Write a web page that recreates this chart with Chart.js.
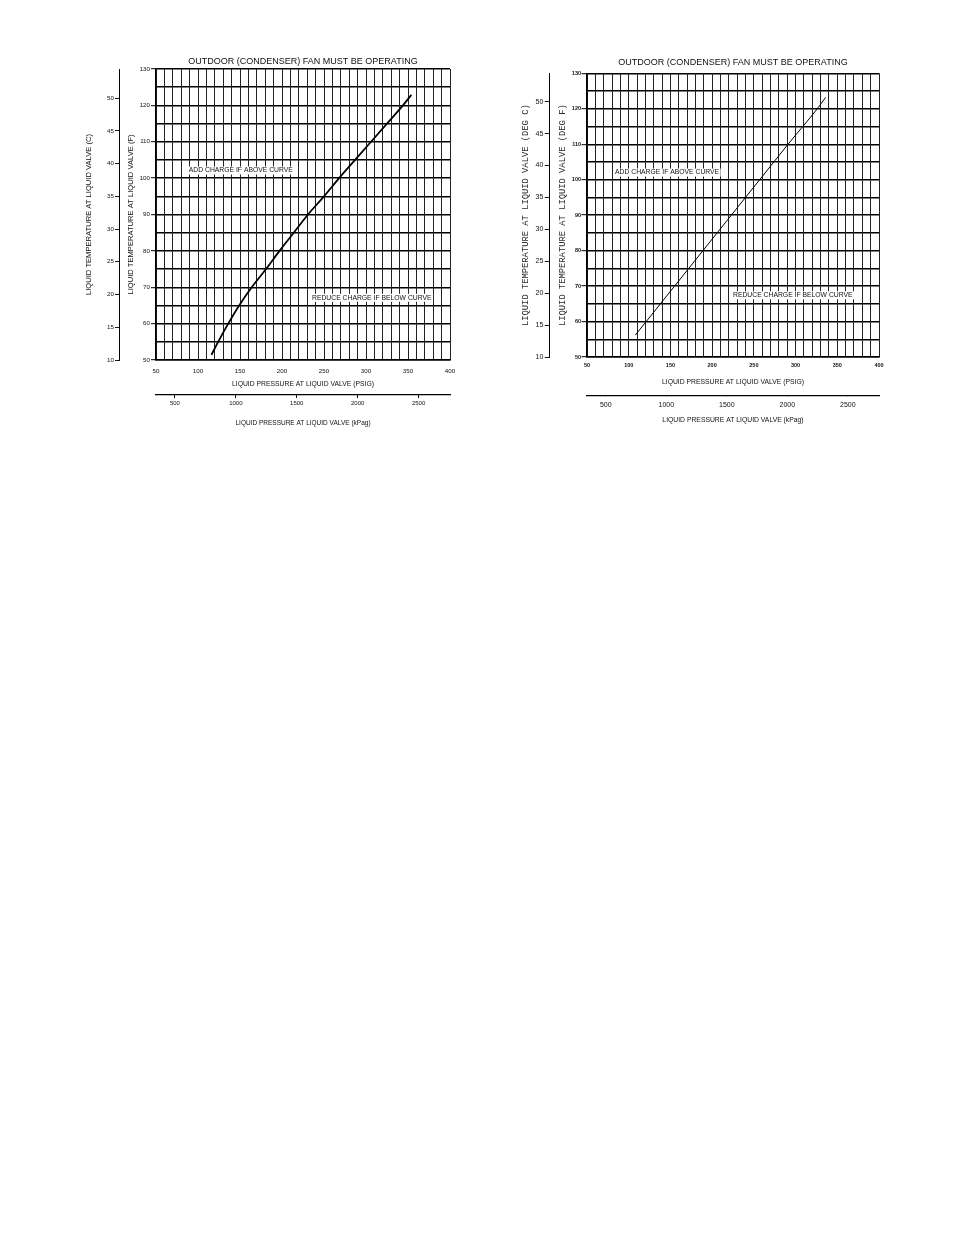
<!DOCTYPE html>
<html>
<head>
<meta charset="utf-8">
<title>Liquid line charging charts</title>
<script src="https://cdn.jsdelivr.net/npm/chart.js@4.4.0/dist/chart.umd.min.js"></script>
<style>
  html, body { margin: 0; padding: 0; background: #fff; }
  body { width: 954px; height: 1235px; position: relative; overflow: hidden; }
  canvas { position: absolute; }
  #leftChart { left: 70px; top: 50px; }
  #rightChart { left: 500px; top: 50px; }
</style>
</head>
<body>
<canvas id="leftChart" width="400" height="390"></canvas>
<canvas id="rightChart" width="400" height="390"></canvas>
<script>
// tick labels
const psigTicks = [50, 100, 150, 200, 250, 300, 350, 400];
const kpaTicks = [500, 1000, 1500, 2000, 2500];
const degFTicks = [50, 60, 70, 80, 90, 100, 110, 120, 130];
const degCTicks = [10, 15, 20, 25, 30, 35, 40, 45, 50];

// left chart curve
const leftPsig = [116, 124, 136, 149, 164, 181, 197, 214, 231, 250, 268, 287, 306, 325, 344, 354];
const leftTempF = [51.4, 55, 60, 65, 70, 75, 80, 85, 90, 95, 100, 105, 110, 115, 120, 122.9];

// right chart curve
const rightPsig = [108, 121, 155, 189, 223, 257, 291, 326, 336];
const rightTempF = [56.2, 60, 70, 80, 90, 100, 110, 120, 123.2];

const titleText = 'OUTDOOR (CONDENSER) FAN MUST BE OPERATING';
const addText = 'ADD CHARGE IF ABOVE CURVE';
const reduceText = 'REDUCE CHARGE IF BELOW CURVE';

const PSI_TO_KPA = 6.895;
const toC = f => (f - 32) / 1.8;
const SANS = '"Liberation Sans", Arial, sans-serif';
const MONO = '"Liberation Mono", "DejaVu Sans Mono", monospace';
const INK = '#111';

// zone notes drawn on a white patch over the grid
const zoneLabels = {
    id: 'zoneLabels',
    afterDatasetsDraw(chart, args, opts) {
        const ctx = chart.ctx;
        const xs = chart.scales.x;
        const ys = chart.scales.yF;
        ctx.save();
        ctx.font = opts.font;
        ctx.textBaseline = 'middle';
        opts.items.forEach(item => {
            const px = xs.getPixelForValue(item.psig);
            const py = ys.getPixelForValue(item.temp);
            const w = ctx.measureText(item.text).width;
            ctx.fillStyle = '#fff';
            ctx.fillRect(px - 1.5, py - 4, w + 3, 8);
            ctx.fillStyle = INK;
            ctx.fillText(item.text, px, py);
        });
        ctx.restore();
    }
};

function buildChart(id, psig, tempF, look) {
    const points = psig.map((p, i) => ({ x: p, y: tempF[i] }));
    return new Chart(document.getElementById(id), {
        type: 'scatter',
        data: {
            datasets: [{
                data: points,
                showLine: true,
                borderColor: '#000',
                borderWidth: look.curveWidth,
                pointRadius: 0,
                cubicInterpolationMode: 'monotone',
                xAxisID: 'x',
                yAxisID: 'yF'
            }]
        },
        plugins: [zoneLabels],
        options: {
            responsive: false,
            animation: false,
            events: [],
            layout: { padding: look.padding },
            plugins: {
                legend: { display: false },
                tooltip: { enabled: false },
                title: {
                    display: true,
                    text: titleText,
                    fullSize: false,
                    color: INK,
                    font: { family: SANS, size: 9, weight: 'normal' },
                    padding: look.titlePad
                },
                zoneLabels: {
                    font: look.noteFont,
                    items: look.notes
                }
            },
            scales: {
                yC: {
                    type: 'linear', axis: 'y', position: 'left', weight: 10,
                    min: toC(50), max: toC(130),
                    afterBuildTicks: s => { s.ticks = degCTicks.map(v => ({ value: v })); },
                    afterFit: s => { s.width = look.cWidth; },
                    grid: { drawOnChartArea: false, tickLength: look.cTick, color: '#000', lineWidth: 0.9 },
                    border: { color: '#000', width: 1 },
                    ticks: { padding: look.cTickPad, color: INK, font: look.cFont, callback: v => String(v) },
                    title: {
                        display: true, text: look.cTitle, color: look.yTitleColor,
                        font: look.yTitleFont, padding: { top: look.cTitlePad, bottom: 0 }
                    }
                },
                yF: {
                    type: 'linear', axis: 'y', position: 'left', weight: 5,
                    min: 50, max: 130,
                    ticks: {
                        stepSize: 5, padding: look.fTickPad, color: INK, font: look.fFont,
                        callback: v => degFTicks.includes(v) ? String(v) : ''
                    },
                    afterFit: s => { s.width = look.fWidth; },
                    grid: {
                        color: '#000', lineWidth: 1.4, tickLength: look.fTick,
                        tickColor: c => degFTicks.includes(c.tick.value) ? '#000' : 'rgba(0,0,0,0)',
                        tickWidth: 1
                    },
                    border: { color: '#000', width: 1.4 },
                    title: {
                        display: true, text: look.fTitle, color: look.yTitleColor,
                        font: look.yTitleFont, padding: { top: look.fTitlePad, bottom: 0 }
                    }
                },
                x: {
                    type: 'linear', axis: 'x', position: 'bottom', weight: 0,
                    min: 50, max: 400,
                    ticks: {
                        stepSize: 10, autoSkip: false, maxRotation: 0, padding: look.xTickPad,
                        color: INK, font: look.xFont,
                        callback: v => psigTicks.includes(v) ? String(v) : ''
                    },
                    afterFit: s => { s.height = look.xHeight; },
                    grid: { color: '#222', lineWidth: 1, drawTicks: false },
                    border: { color: '#000', width: 1.4 },
                    title: {
                        display: true, text: 'LIQUID PRESSURE AT LIQUID VALVE (PSIG)', color: INK,
                        font: look.xTitleFont, padding: { top: 0, bottom: look.xTitlePad }
                    }
                },
                xK: {
                    type: 'linear', axis: 'x', position: 'bottom', weight: 1,
                    min: 50 * PSI_TO_KPA, max: 400 * PSI_TO_KPA,
                    afterBuildTicks: s => { s.ticks = kpaTicks.map(v => ({ value: v })); },
                    afterFit: s => { s.height = look.kHeight; },
                    ticks: {
                        maxRotation: 0, padding: look.kTickPad, color: INK, font: look.kFont,
                        callback: v => String(v)
                    },
                    grid: { drawOnChartArea: false, tickLength: look.kTick, color: '#000', lineWidth: 1 },
                    border: { color: '#000', width: 1.2 },
                    title: {
                        display: true, text: 'LIQUID PRESSURE AT LIQUID VALVE (kPag)', color: INK,
                        font: look.kTitleFont, padding: { top: 0, bottom: look.kTitlePad }
                    }
                }
            }
        }
    });
}

document.addEventListener('DOMContentLoaded', function() {
    buildChart('leftChart', leftPsig, leftTempF, {
        curveWidth: 1.8,
        padding: { left: 0, right: 20, top: 0, bottom: 10 },
        titlePad: { top: 6, bottom: 2.2 },
        cWidth: 49, cTick: 4, cTickPad: 1, cFont: { family: SANS, size: 6.2 },
        cTitle: 'LIQUID TEMPERATURE AT LIQUID VALVE (C)', cTitlePad: 14,
        fWidth: 37, fTick: 5, fTickPad: 1, fFont: { family: SANS, size: 6.2 },
        fTitle: 'LIQUID TEMPERATURE AT LIQUID VALVE (F)', fTitlePad: 7.6,
        yTitleFont: { family: SANS, size: 7.6 }, yTitleColor: INK,
        xHeight: 35, xTickPad: 8, xFont: { family: SANS, size: 6.2 },
        xTitleFont: { family: SANS, size: 6.8 }, xTitlePad: 7,
        kHeight: 35, kTick: 3, kTickPad: 2, kFont: { family: SANS, size: 6 },
        kTitleFont: { family: SANS, size: 6.5 }, kTitlePad: 3,
        noteFont: '6.8px ' + SANS,
        notes: [
            { text: addText, psig: 89, temp: 102.1 },
            { text: reduceText, psig: 235.7, temp: 67.1 }
        ]
    });

    buildChart('rightChart', rightPsig, rightTempF, {
        curveWidth: 1,
        padding: { left: 0, right: 21, top: 0, bottom: 10 },
        titlePad: { top: 7.3, bottom: 5.2 },
        cWidth: 49.3, cTick: 4.5, cTickPad: 1.5, cFont: { family: SANS, size: 7 },
        cTitle: 'LIQUID TEMPERATURE AT LIQUID VALVE (DEG C)', cTitlePad: 20.2,
        fWidth: 37.7, fTick: 5.5, fTickPad: 0.5, fFont: { family: SANS, size: 5.5, weight: 'bold' },
        fTitle: 'LIQUID TEMPERATURE AT LIQUID VALVE (DEG F)', fTitlePad: 8.2,
        yTitleFont: { family: MONO, size: 8.8 }, yTitleColor: '#2a2a2a',
        xHeight: 38.7, xTickPad: 5, xFont: { family: SANS, size: 5.5, weight: 'bold' },
        xTitleFont: { family: SANS, size: 6.8 }, xTitlePad: 10,
        kHeight: 34.3, kTick: 0, kTickPad: 5, kFont: { family: SANS, size: 7 },
        kTitleFont: { family: SANS, size: 6.8 }, kTitlePad: 6,
        noteFont: '6.8px ' + SANS,
        notes: [
            { text: addText, psig: 83.6, temp: 102 },
            { text: reduceText, psig: 225, temp: 67.4 }
        ]
    });
});
</script>
</body>
</html>
